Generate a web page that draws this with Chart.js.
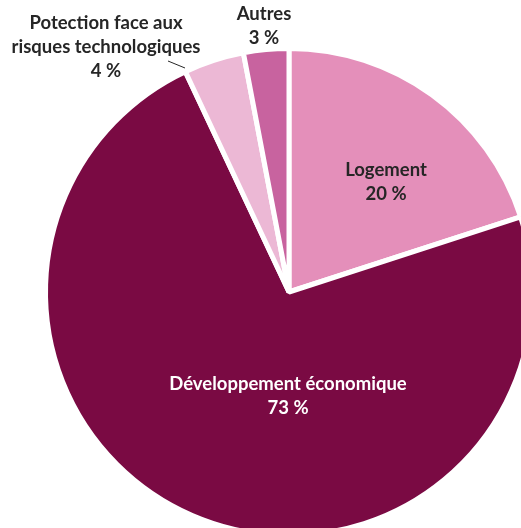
<!DOCTYPE html>
<html>
<head>
<meta charset="utf-8">
<script src="https://cdn.jsdelivr.net/npm/chart.js@4.4.0/dist/chart.umd.min.js"></script>
<style>
  html, body { margin: 0; padding: 0; background: #fff; overflow: hidden; }
  #wrap { position: absolute; left: 0; top: 0; width: 578px; height: 584px; }
</style>
</head>
<body>
<div id="wrap"><canvas id="pie"></canvas></div>
<script>
'use strict';

var categories = ['Logement', 'Développement économique', 'Potection face aux risques technologiques', 'Autres'];
var values = [20, 73, 4, 3];
var colors = ['#e48fba', '#7a0a43', '#ecb8d5', '#c8639f'];

// label lines and where they sit (x, y of first line), text colour
var labelLines = [
    ['Logement', '20 %'],
    ['Développement économique', '73 %'],
    ['Potection face aux', 'risques technologiques', '4 %'],
    ['Autres', '3 %']
];
var labelPos = [[386, 170], [288, 384], [106, 23], [264, 14]];
var labelColor = ['#262626', '#ffffff', '#262626', '#262626'];

var labelsPlugin = {
    id: 'sliceLabels',
    afterDraw: function (chart) {
        var ctx = chart.ctx;
        ctx.save();
        ctx.font = 'bold 18.5px Lato, "Open Sans", sans-serif';
        ctx.textAlign = 'center';
        ctx.textBaseline = 'middle';
        for (var i = 0; i < labelLines.length; i++) {
            ctx.fillStyle = labelColor[i];
            for (var j = 0; j < labelLines[i].length; j++) {
                ctx.fillText(labelLines[i][j], labelPos[i][0], labelPos[i][1] + j * 24);
            }
        }
        // leader line for the small slice
        ctx.strokeStyle = '#262626';
        ctx.lineWidth = 1;
        ctx.beginPath();
        ctx.moveTo(168, 61);
        ctx.lineTo(185, 68);
        ctx.stroke();
        ctx.restore();
    }
};

var pie = new Chart(document.getElementById('pie').getContext('2d'), {
    type: 'pie',
    data: {
        labels: categories,
        datasets: [{
            data: values,
            backgroundColor: colors,
            borderColor: '#ffffff',
            borderWidth: 5
        }]
    },
    options: {
        responsive: true,
        maintainAspectRatio: false,
        animation: false,
        layout: { padding: 43 },
        plugins: {
            legend: { display: false },
            tooltip: { enabled: false }
        }
    },
    plugins: [labelsPlugin]
});
</script>
</body>
</html>
